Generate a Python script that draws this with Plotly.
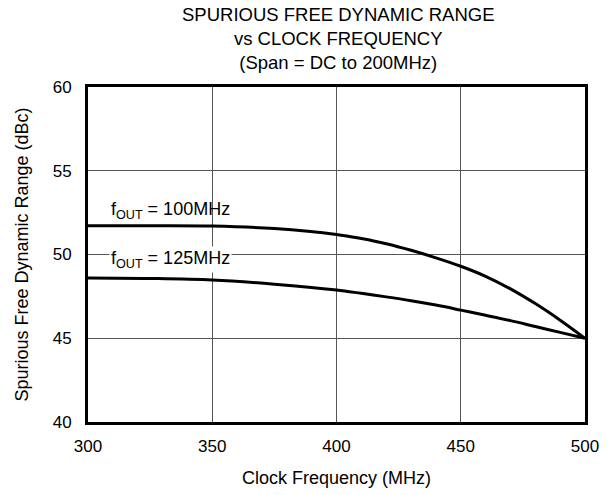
import plotly.graph_objects as go

# clock frequency (MHz)
clock_mhz = [300, 325, 350, 375, 400, 410, 420, 430, 440, 450, 460, 470, 480, 490, 500]
# SFDR (dBc) for each output frequency
sfdr_100 = [51.72, 51.72, 51.7, 51.55, 51.2, 50.95, 50.64, 50.25, 49.8, 49.3, 48.7, 47.95, 47.07, 46.08, 45.0]
sfdr_125 = [48.6, 48.57, 48.48, 48.23, 47.88, 47.68, 47.47, 47.24, 46.98, 46.68, 46.37, 46.05, 45.7, 45.35, 45.0]

x_ticks = [300, 350, 400, 450, 500]
y_ticks = [40, 45, 50, 55, 60]

FONT = "Liberation Sans, Arial, Helvetica, sans-serif"

fig = go.Figure()

for vals in (sfdr_100, sfdr_125):
    fig.add_trace(go.Scatter(
        x=clock_mhz, y=vals, mode="lines",
        line=dict(color="black", width=3, shape="spline", smoothing=1.0),
        showlegend=False, hoverinfo="skip"
    ))

# title, drawn as an annotation so the three lines stay inside the page
fig.add_annotation(
    xref="paper", yref="paper", x=0.505, y=1, yshift=12,
    xanchor="center", yanchor="bottom", showarrow=False,
    text="SPURIOUS FREE DYNAMIC RANGE<br>vs CLOCK FREQUENCY<br>(Span = DC to 200MHz)",
    font=dict(size=18.5, family=FONT, color="black")
)

# curve labels
fig.add_annotation(x=308.5, y=52.6, text="f<sub>OUT</sub> = 100MHz",
                   showarrow=False, xanchor="left", yanchor="middle",
                   font=dict(size=18, color="black", family=FONT))
fig.add_annotation(x=308.5, y=49.7, text="f<sub>OUT</sub> = 125MHz",
                   showarrow=False, xanchor="left", yanchor="middle",
                   bgcolor="white",
                   font=dict(size=18, color="black", family=FONT))

fig.update_layout(
    width=611, height=495,
    margin=dict(l=88, r=26, t=87, b=73, autoexpand=False),
    paper_bgcolor="white", plot_bgcolor="white",
    font=dict(family=FONT, size=17, color="black"),
    xaxis=dict(
        range=[300, 500], tickvals=x_ticks, automargin=False,
        ticks="outside", ticklen=7, tickcolor="white",
        showgrid=True, gridcolor="#555555", gridwidth=1,
        showline=True, linecolor="black", linewidth=3, mirror=True,
        zeroline=False, tickfont=dict(size=17),
        title=dict(text="Clock Frequency (MHz)", font=dict(size=18), standoff=16)
    ),
    yaxis=dict(
        range=[40, 60], tickvals=y_ticks, automargin=False,
        ticks="outside", ticklen=10, tickcolor="white",
        showgrid=True, gridcolor="#555555", gridwidth=1,
        showline=True, linecolor="black", linewidth=3, mirror=True,
        zeroline=False, tickfont=dict(size=17),
        title=dict(text="Spurious Free Dynamic Range (dBc)", font=dict(size=18), standoff=20)
    ),
)

fig.write_html("out.html", config={"displayModeBar": False},
               post_script="document.body.style.margin='0px';")
